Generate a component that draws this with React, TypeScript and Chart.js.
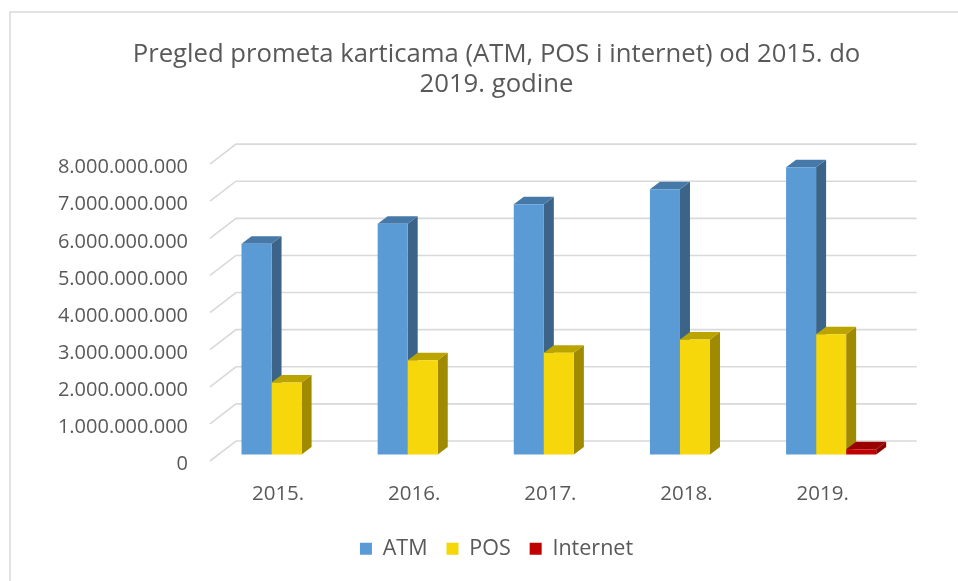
import { useEffect, useRef } from "react";
import { Chart, registerables } from "chart.js";

Chart.register(...registerables);

const categories = ["2015.", "2016.", "2017.", "2018.", "2019."];
const atmValues = [5680000000, 6220000000, 6740000000, 7150000000, 7740000000];
const posValues = [1940000000, 2540000000, 2740000000, 3100000000, 3240000000];
const internetValues = [null, null, null, null, 140000000];
const seriesNames = ["ATM", "POS", "Internet"];
const titleLines = ["Pregled prometa karticama (ATM, POS i internet) od 2015. do", "2019. godine"];
const yMin = 0;
const yMax = 8000000000;
const yStep = 1000000000;

const FRONT_COLORS = ["#5B9BD5", "#F5D70B", "#C00000"];
const SIDE_COLORS = ["#3B6488", "#A08A00", "#8A0000"];
const TOP_COLORS = ["#4779A8", "#BBA300", "#9A0000"];
const TEXT = "#595959";
const FONT = "'Open Sans', sans-serif";

const WALL = { dx: 26, dy: -20 };
const SHIFT = { dx: 8.5, dy: -6.5 };
const DEPTH = { dx: 10, dy: -7.5 };

const fmt = (v: number) => String(Math.round(v)).replace(/\B(?=(\d{3})+(?!\d))/g, ".");

const depthPlugin = {
  id: "depth3d",
  beforeDraw(chart: any) {
    const ctx = chart.ctx;
    ctx.save();
    ctx.fillStyle = "#ffffff";
    ctx.fillRect(0, 0, chart.width, chart.height);
    ctx.strokeStyle = "#D9D9D9";
    ctx.lineWidth = 1.5;
    ctx.strokeRect(10, 12, chart.width + 20, chart.height + 20);
    ctx.restore();
  },
  beforeDatasetsDraw(chart: any) {
    const ctx = chart.ctx;
    const { left, right } = chart.chartArea;
    const y = chart.scales.y;
    ctx.save();
    ctx.strokeStyle = "#D9D9D9";
    ctx.lineWidth = 1.6;
    y.ticks.forEach((t: any) => {
      const py = y.getPixelForValue(t.value);
      ctx.beginPath();
      ctx.moveTo(left, py);
      ctx.lineTo(left + WALL.dx, py + WALL.dy);
      ctx.lineTo(right + WALL.dx, py + WALL.dy);
      ctx.stroke();
    });
    ctx.restore();

    ctx.save();
    ctx.translate(SHIFT.dx, SHIFT.dy);
    const n = chart.data.labels.length;
    for (let i = 0; i < n; i++) {
      chart.data.datasets.forEach((ds: any, d: number) => {
        const meta = chart.getDatasetMeta(d);
        const el = meta.data[i];
        if (!el || ds.data[i] == null) return;
        const { x, y: top, base, width } = el.getProps(["x", "y", "base", "width"], true);
        const r = x + width / 2;
        const l = x - width / 2;
        ctx.fillStyle = SIDE_COLORS[d];
        ctx.beginPath();
        ctx.moveTo(r, base);
        ctx.lineTo(r, top);
        ctx.lineTo(r + DEPTH.dx, top + DEPTH.dy);
        ctx.lineTo(r + DEPTH.dx, base + DEPTH.dy);
        ctx.closePath();
        ctx.fill();
        ctx.fillStyle = TOP_COLORS[d];
        ctx.beginPath();
        ctx.moveTo(l, top);
        ctx.lineTo(r, top);
        ctx.lineTo(r + DEPTH.dx, top + DEPTH.dy);
        ctx.lineTo(l + DEPTH.dx, top + DEPTH.dy);
        ctx.closePath();
        ctx.fill();
      });
    }
  },
  afterDatasetsDraw(chart: any) {
    chart.ctx.restore();
  },
};

export default function App() {
  const ref = useRef<HTMLCanvasElement>(null);

  useEffect(() => {
    if (!ref.current) return;
    const chart = new Chart(ref.current, {
      type: "bar",
      data: {
        labels: categories,
        datasets: [
          { label: seriesNames[0], data: atmValues, backgroundColor: FRONT_COLORS[0] },
          { label: seriesNames[1], data: posValues, backgroundColor: FRONT_COLORS[1] },
          { label: seriesNames[2], data: internetValues, backgroundColor: FRONT_COLORS[2] },
        ],
      },
      options: {
        responsive: false,
        animation: false,
        events: [],
        layout: { padding: { top: 12, left: 35, right: 0, bottom: 11.5 } },
        datasets: {
          bar: { categoryPercentage: 0.662, barPercentage: 1, borderWidth: 0, clip: false as any },
        },
        plugins: {
          tooltip: { enabled: false },
          title: {
            display: true,
            text: titleLines,
            color: TEXT,
            font: { family: FONT, size: 25.7, weight: "normal" as any, lineHeight: 1.15 },
            padding: { top: 28, bottom: 65 },
          },
          legend: {
            position: "bottom",
            labels: {
              color: TEXT,
              font: { family: FONT, size: 21.5 },
              boxWidth: 12,
              boxHeight: 12,
              padding: 19,
            },
          },
        },
        scales: {
          x: {
            grid: { display: false, drawTicks: false },
            border: { display: false },
            ticks: { color: TEXT, font: { family: FONT, size: 20.5 }, padding: 20.5 },
            afterFit: (s: any) => {
              s.height = 58;
            },
          },
          y: {
            min: yMin,
            max: yMax,
            grid: { display: false, drawTicks: false },
            border: { display: false },
            ticks: {
              stepSize: yStep,
              color: TEXT,
              font: { family: FONT, size: 20 },
              padding: 22,
              labelOffset: 3.5,
              callback: (v: any) => fmt(Number(v)),
            },
            afterFit: (s: any) => {
              s.width = 175;
            },
          },
          yRight: {
            type: "linear",
            position: "right",
            grid: { display: false, drawTicks: false },
            border: { display: false },
            ticks: { display: false },
            afterFit: (s: any) => {
              s.width = 67.3;
            },
          },
        },
      },
      plugins: [depthPlugin],
    });
    return () => chart.destroy();
  }, []);

  return (
    <div style={{ position: "fixed", left: 0, top: 0, width: 958, height: 581 }}>
      <canvas ref={ref} width={958} height={581} />
    </div>
  );
}
